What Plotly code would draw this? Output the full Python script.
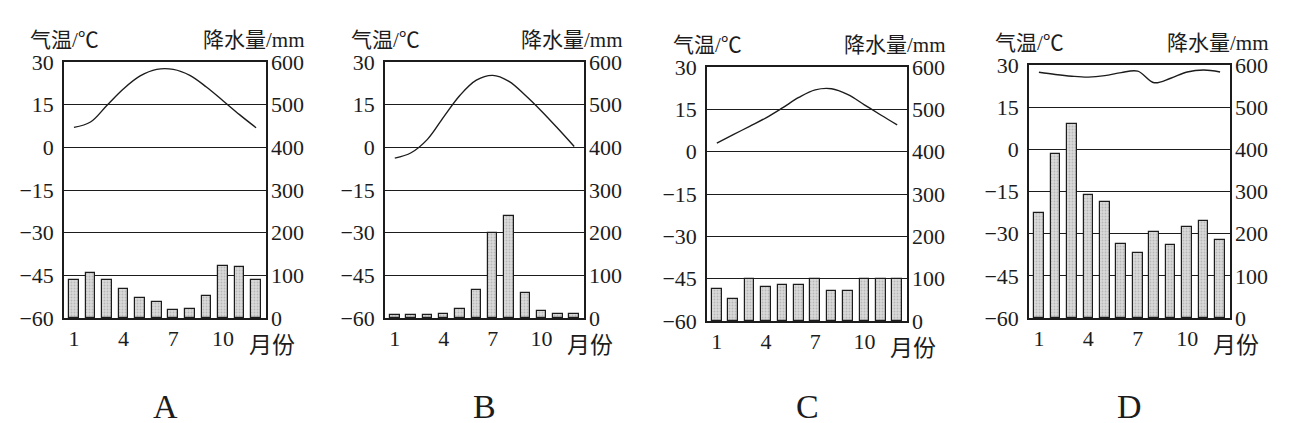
import plotly.graph_objects as go

W, H = 1311, 423
PAGE_MARGIN = 8  # the page body shifts the plot by this many pixels

months = list(range(1, 13))
month_ticks = [1, 4, 7, 10]
temp_ticks = [-60, -45, -30, -15, 0, 15, 30]
rain_ticks = [0, 100, 200, 300, 400, 500, 600]

temp_a = [7.0, 8.9, 14.8, 20.6, 25.1, 27.4, 27.4, 25.3, 21.2, 16.4, 11.5, 6.9]
rain_a = [90, 105, 90, 67, 48, 38, 18, 22, 52, 123, 120, 88]

temp_b = [-3.8, -1.9, 2.8, 10.7, 18.3, 23.6, 25.3, 23.2, 18.3, 12.7, 6.6, 0.3]
rain_b = [7, 7, 7, 10, 22, 66, 200, 240, 58, 17, 9, 9]

temp_c = [3.0, 6.0, 9.0, 12.0, 15.5, 19.2, 21.9, 22.3, 20.2, 16.6, 13.0, 9.5]
rain_c = [75, 52, 100, 80, 86, 86, 99, 71, 71, 100, 100, 100]

temp_d = [27.4, 26.6, 26.0, 25.7, 26.2, 27.3, 27.8, 23.7, 25.3, 27.5, 28.2, 27.5]
rain_d = [249, 389, 460, 292, 275, 176, 154, 204, 174, 217, 230, 184]

# letter, temperature, rainfall, plot box in pixels (left, top, right, bottom)
panels = [
    ("A", temp_a, rain_a, (64, 62, 266, 318)),
    ("B", temp_b, rain_b, (385, 62, 584, 318)),
    ("C", temp_c, rain_c, (707, 67, 907, 321)),
    ("D", temp_d, rain_d, (1029, 65, 1230, 318)),
]

SERIF = "Liberation Serif, 'Noto Sans CJK SC', serif"
INK = "#1c1c1c"


def px_x(x):
    return (x - PAGE_MARGIN) / W


def px_y(y):
    return 1 - (y - PAGE_MARGIN) / H


fig = go.Figure()
annotations = []
layout_axes = {}

for i, (letter, temps, rains, box) in enumerate(panels):
    left, top, right, bottom = box
    xa = "x" if i == 0 else f"x{i + 1}"
    n = 2 * i + 1
    ya_t = "y" if n == 1 else f"y{n}"
    ya_r = f"y{n + 1}"

    fig.add_trace(go.Bar(
        x=months, y=rains, xaxis=xa, yaxis=ya_r,
        width=0.58,
        marker=dict(
            color="#d0d0d0",
            line=dict(color=INK, width=1.2),
            pattern=dict(shape=".", fgcolor="#959595", bgcolor="#dadada",
                         size=3, solidity=0.3)
        ),
        showlegend=False, hoverinfo="skip"
    ))
    fig.add_trace(go.Scatter(
        x=months, y=temps, xaxis=xa, yaxis=ya_t,
        mode="lines",
        line=dict(color=INK, width=1.4, shape="spline", smoothing=1.0),
        showlegend=False, hoverinfo="skip"
    ))

    tick_font = dict(family=SERIF, size=22, color=INK)
    layout_axes["xaxis" if i == 0 else f"xaxis{i + 1}"] = dict(
        domain=[px_x(left), px_x(right)],
        range=[0.4, 12.6],
        anchor=ya_t,
        tickvals=month_ticks,
        ticks="", ticklabelstandoff=0,
        showgrid=False, zeroline=False, automargin=False,
        showline=True, mirror=True, linecolor=INK, linewidth=1.5,
        tickfont=tick_font, fixedrange=True
    )
    layout_axes["yaxis" if n == 1 else f"yaxis{n}"] = dict(
        domain=[px_y(bottom), px_y(top)],
        range=[-60, 30],
        anchor=xa,
        tickvals=temp_ticks,
        ticks="", ticklabelstandoff=4,
        showgrid=True, gridcolor=INK, gridwidth=1.3,
        zeroline=False, automargin=False,
        showline=True, mirror=True, linecolor=INK, linewidth=1.5,
        tickfont=tick_font, fixedrange=True
    )
    layout_axes[f"yaxis{n + 1}"] = dict(
        overlaying=ya_t, side="right", anchor=xa,
        range=[0, 600],
        tickvals=rain_ticks,
        ticks="", ticklabelstandoff=4,
        showgrid=False, zeroline=False, showline=False, automargin=False,
        tickfont=tick_font, fixedrange=True
    )

    annotations += [
        dict(text="气温/℃", x=px_x(left - 36), y=px_y(top - 22),
             xanchor="left", yanchor="middle",
             font=dict(family=SERIF, size=21, color=INK)),
        dict(text="降水量/mm", x=px_x(right + 41), y=px_y(top - 22),
             xanchor="right", yanchor="middle",
             font=dict(family=SERIF, size=21, color=INK)),
        dict(text="月份", x=px_x(right - 19), y=px_y(bottom + 27),
             xanchor="left", yanchor="middle",
             font=dict(family=SERIF, size=23, color=INK)),
        dict(text=letter, x=px_x((left + right) / 2), y=px_y(406),
             xanchor="center", yanchor="middle",
             font=dict(family=SERIF, size=34, color=INK)),
    ]

for a in annotations:
    a.update(xref="paper", yref="paper", showarrow=False)

fig.update_layout(
    width=W, height=H,
    margin=dict(l=0, r=0, t=0, b=0, pad=0),
    paper_bgcolor="white", plot_bgcolor="white",
    bargap=0,
    annotations=annotations,
    **layout_axes
)

fig.write_html("out.html")
